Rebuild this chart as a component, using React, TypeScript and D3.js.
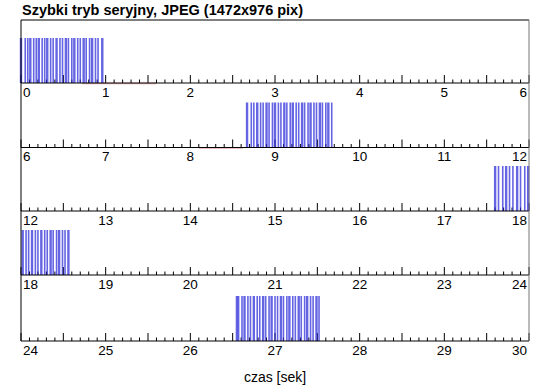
import React from "react";
import * as d3 from "d3";

// czasy kolejnych zdjęć w serii [s]
const burst1 = [0.0, 0.05, 0.08, 0.11, 0.15, 0.18, 0.21, 0.25, 0.28, 0.31, 0.35, 0.38, 0.42, 0.46, 0.49, 0.53, 0.56, 0.6, 0.63, 0.67, 0.7, 0.74, 0.77, 0.81, 0.84, 0.88, 0.91, 0.96];
const burst2 = [8.67, 8.72, 8.75, 8.79, 8.83, 8.86, 8.9, 8.93, 8.97, 9.0, 9.04, 9.07, 9.11, 9.14, 9.18, 9.21, 9.25, 9.28, 9.32, 9.35, 9.39, 9.42, 9.46, 9.49, 9.53, 9.56, 9.6, 9.63, 9.67];
const burst3 = [17.6, 17.64, 17.69, 17.73, 17.77, 17.81, 17.86, 17.9, 17.95, 17.99, 18.02, 18.06, 18.09, 18.13, 18.17, 18.2, 18.24, 18.28, 18.31, 18.35, 18.38, 18.42, 18.45, 18.49, 18.52, 18.56];
const burst4 = [26.55, 26.57, 26.61, 26.64, 26.68, 26.71, 26.75, 26.79, 26.82, 26.86, 26.89, 26.93, 26.96, 27.0, 27.03, 27.07, 27.1, 27.14, 27.17, 27.21, 27.24, 27.28, 27.31, 27.35, 27.38, 27.42, 27.45, 27.49, 27.52];
const shots = [...burst1, ...burst2, ...burst3, ...burst4];

// słabe czerwone odcinki przy osi
const redSegments: [number, number][] = [[0.72, 1.6], [8.1, 8.62]];

const rowStarts = [0, 6, 12, 18, 24];
const rowSpan = 6;
const title = "Szybki tryb seryjny, JPEG (1472x976 pix)";
const xLabel = "czas [sek]";

const width = 550, height = 389;
const left = 21, right = 529, top = 20;
const baselines = [83, 147.5, 211, 275, 341];
const barH = 45;

export default function App() {
  const font = "'Liberation Sans', Arial, Helvetica, sans-serif";
  return (
    <svg width={width} height={height} style={{ position: "absolute", left: 0, top: 0, background: "#fff" }} fontFamily={font}>
      <text x={22} y={15} fontSize={14.5} fontWeight="bold">{title}</text>
      {rowStarts.map((s, r) => {
        const x = d3.scaleLinear().domain([s, s + rowSpan]).range([left, right]);
        const y0 = baselines[r];
        const ticks = d3.range(0, rowSpan * 10 + 1).map(i => ({ t: s + i / 10, major: i % 5 === 0 }));
        const labels = d3.range(s, s + rowSpan + 1);
        const rowShots = shots.filter(t => t >= s && t < s + rowSpan);
        return (
          <g key={s}>
            {ticks.map((d, i) => (
              <line key={i} x1={x(d.t)} x2={x(d.t)} y1={y0} y2={y0 - (d.major ? 8 : 3.5)} stroke="#000" strokeWidth={1} />
            ))}
            {redSegments.filter(([a, b]) => b > s && a < s + rowSpan).map(([a, b], i) => (
              <line key={"r" + i} x1={x(Math.max(a, s))} x2={x(Math.min(b, s + rowSpan))} y1={y0 + 0.5} y2={y0 + 0.5}
                stroke="#c06060" strokeOpacity={0.5} strokeWidth={1.5} />
            ))}
            {rowShots.map((t, i) => (
              <rect key={"b" + i} x={x(t) - (i % 3 === 0 ? 1.2 : 0.8)} width={i % 3 === 0 ? 2.4 : 1.6} y={y0 - barH} height={barH}
                fill="#2a2ad8" fillOpacity={0.72} />
            ))}
            <line x1={left} x2={right} y1={y0} y2={y0} stroke="#000" strokeWidth={1} />
            {labels.map((v, i) => (
              <text key={"l" + v} x={x(v)} y={y0 + 13.5} fontSize={13.5}
                textAnchor={i === 0 ? "start" : i === labels.length - 1 ? "end" : "middle"}
                dx={i === 0 ? 2 : i === labels.length - 1 ? -2 : 0}>{v}</text>
            ))}
          </g>
        );
      })}
      <line x1={left} x2={right} y1={top} y2={top} stroke="#000" />
      <line x1={left} x2={left} y1={top} y2={baselines[4]} stroke="#000" />
      <line x1={right} x2={right} y1={top} y2={baselines[4]} stroke="#777" />
      <text x={(left + right) / 2} y={382} fontSize={14} textAnchor="middle">{xLabel}</text>
    </svg>
  );
}
